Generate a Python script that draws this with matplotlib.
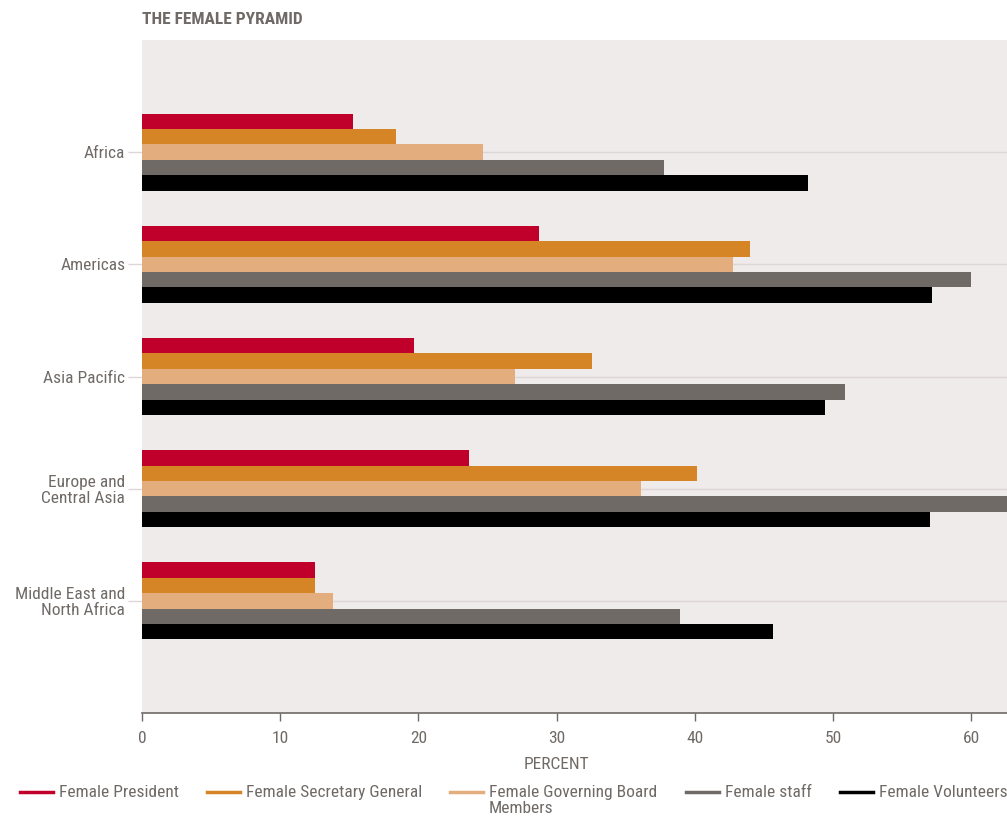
import matplotlib.pyplot as plt
from matplotlib.lines import Line2D
import numpy as np

# ── Colours ─────────────────────────────────────────────────────────────────
BG_AX   = "#efebea"
TEXT    = "#6f6a66"
GRIDC   = "#dcd6d4"
COLORS  = ["#c0002a", "#d58426", "#e4ad7e", "#6f6a66", "#000000"]

plt.rcParams["font.family"] = ["Roboto Condensed", "DejaVu Sans"]

# ── Data ────────────────────────────────────────────────────────────────────
regions = ["Africa", "Americas", "Asia Pacific", "Europe and\nCentral Asia",
           "Middle East and\nNorth Africa"]
series = ["Female President", "Female Secretary General",
          "Female Governing Board\nMembers", "Female staff", "Female Volunteers"]

president  = [15.3, 28.7, 19.7, 23.7, 12.5]
secretary  = [18.4, 44.0, 32.6, 40.2, 12.5]
board      = [24.7, 42.8, 27.0, 36.1, 13.8]
staff      = [37.8, 60.0, 50.9, 62.6, 38.9]
volunteers = [48.2, 57.2, 49.4, 57.0, 45.7]
values = [president, secretary, board, staff, volunteers]

XMAX = 62.6

# ── Figure ──────────────────────────────────────────────────────────────────
fig = plt.figure(figsize=(10.07, 8.18), dpi=100, facecolor="white")
ax = fig.add_axes([142/1007, 1 - 713/818, 1 - 142/1007, (713 - 40)/818])
ax.set_facecolor(BG_AX)

y = np.arange(len(regions))
h = 0.1375
for i, (vals, col, lab) in enumerate(zip(values, COLORS, series)):
    ax.barh(y + (i - 2) * h, vals, height=h, color=col, label=lab, zorder=3, linewidth=0)

ax.set_ylim(len(regions), -1)
ax.set_xlim(0, XMAX)
ax.set_yticks(y)
ax.set_yticklabels(regions, fontsize=12.5, color=TEXT, linespacing=1.05)
ax.set_xticks(range(0, 61, 10))
ax.tick_params(axis="x", colors=TEXT, labelsize=12.5, length=6, width=1, pad=7)
ax.tick_params(axis="y", colors=GRIDC, labelcolor=TEXT, length=10, width=1, pad=2)
ax.grid(axis="y", color=GRIDC, linewidth=1, zorder=0)

for s in ["top", "right", "left"]:
    ax.spines[s].set_visible(False)
ax.spines["bottom"].set_color(TEXT)
ax.spines["bottom"].set_linewidth(1.2)

ax.set_xlabel("PERCENT", fontsize=12.5, color=TEXT)
ax.xaxis.set_label_coords(30 / XMAX, -0.065)

fig.text(142/1007, 1 - 19/818, "THE FEMALE PYRAMID", fontsize=12.5, fontweight="bold",
         color=TEXT, ha="left", va="center")

# ── Legend (manual placement, one entry per series) ─────────────────────────
W, H = 1007, 818
leg_x = [20, 207, 450, 686, 840]
leg_y = 792
for x0, col, lab in zip(leg_x, COLORS, series):
    fig.add_artist(Line2D([x0 / W, (x0 + 33) / W], [1 - leg_y / H] * 2,
                          color=col, linewidth=2.5, transform=fig.transFigure))
    fig.text((x0 + 39) / W, 1 - (leg_y - 7) / H, lab, fontsize=12.5, color=TEXT,
             ha="left", va="top", linespacing=1.05)

fig.savefig("out.png", dpi=100, facecolor="white")
